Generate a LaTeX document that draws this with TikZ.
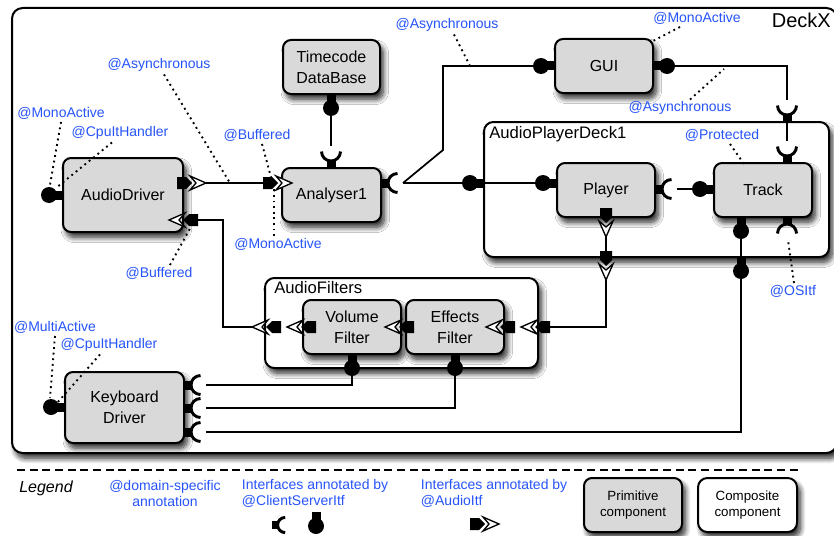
\documentclass[tikz,border=0pt]{standalone}
\usepackage{fontspec}
\setmainfont{Liberation Sans}
\usetikzlibrary{calc,shadows.blur}

\definecolor{annot}{RGB}{38,84,250}
\definecolor{primgray}{RGB}{217,217,217}

\pgfdeclarelayer{boxes}
\pgfdeclarelayer{wires}
\pgfsetlayers{boxes,wires,main}

\tikzset{
  boxshadow/.style={blur shadow={shadow xshift=2.5pt, shadow yshift=-4pt, shadow blur radius=4pt, shadow blur steps=10, shadow opacity=85}},
  prim/.style={draw, line width=1.5pt, fill=primgray, rounded corners=6pt, boxshadow,
    align=center, inner sep=0pt, font=\fontsize{12}{15.5}\selectfont},
  comp/.style={draw, line width=1.5pt, fill=white, rounded corners=7pt, boxshadow, inner sep=0pt},
  boxsize/.style 2 args={minimum width=#1*0.75pt, minimum height=#2*0.75pt},
  wire/.style={line width=1.3pt},
  note/.style={line width=1.4pt, dash pattern=on 1.4pt off 2.8pt},
  tag/.style={text=annot, inner sep=0.5pt, font=\fontsize{10.5}{12}\selectfont},
  title/.style={anchor=west, inner sep=0pt, font=\fontsize{12.5}{15}\selectfont},
  % client interface
  ball/.pic={
    \fill (0,-4.5) rectangle (14,4.5);
    \fill (14,0) circle (8);
    \coordinate (-o) at (0,0);
    \coordinate (-c) at (14,0);
  },
  % server interface
  socket/.pic={
    \fill (0,-4.5) rectangle (7,4.5);
    \draw[line width=2.2pt] (16.5,-9.5) arc[start angle=-90, end angle=-270, radius=9.5];
    \coordinate (-o) at (0,0);
    \coordinate (-c) at (22,0);
  },
  % audio interface
  audio/.pic={
    \fill (0,-6) -- (9,-6) -- (15,0) -- (9,6) -- (0,6) -- cycle;
    \draw[fill=white, line width=1pt, line join=miter] (13,-7) -- (29,0) -- (13,7) -- (19,0) -- cycle;
    \coordinate (-o) at (0,0);
    \coordinate (-tip) at (29,0);
  },
}

\begin{document}
\begin{tikzpicture}[x=0.75pt, y=-0.75pt]
  \useasboundingbox (0,0) rectangle (834,535);

  \begin{pgfonlayer}{boxes}
    % DeckX
    \node[comp, boxsize={825}{445}, rounded corners=8pt] (deckx) at (424.5,230.5) {};
    \node[prim, boxsize={97}{54}] (tdb) at (331.5,67) {Timecode\\DataBase};
    \node[prim, boxsize={98}{54}] (gui) at (604,66) {GUI};
    \node[prim, boxsize={120}{74}] (adrv) at (123,195) {AudioDriver};
    \node[prim, boxsize={99}{54}] (ana) at (331.5,195) {Analyser1};
    \node[prim, boxsize={119}{71}] (kbd) at (124.5,407.5) {Keyboard\\Driver};
    % AudioPlayerDeck1
    \node[comp, boxsize={345}{135}] (apd) at (656.5,189.5) {};
    \node[prim, boxsize={98}{54}] (player) at (606,190) {Player};
    \node[prim, boxsize={98}{54}] (track) at (763,190) {Track};
    % AudioFilters
    \node[comp, boxsize={273}{90}] (afl) at (401.5,323) {};
    \node[prim, boxsize={98}{54}] (vol) at (352,327) {Volume\\Filter};
    \node[prim, boxsize={98}{54}] (eff) at (455,327) {Effects\\Filter};
    % legend boxes
    \node[prim, boxsize={98}{54}, font=\fontsize{10}{11.5}\selectfont] (lgprim) at (633,505) {Primitive\\component};
    \node[comp, boxsize={99}{54}, align=center, font=\fontsize{10}{11.5}\selectfont] (lgcomp) at (747.5,505) {Composite\\component};
  \end{pgfonlayer}

  \node[anchor=east, inner sep=0pt, font=\fontsize{15}{18}\selectfont] (deckxl) at (831,20) {DeckX};
  \node[title] (apdl) at (489,134) {AudioPlayerDeck1};
  \node[title] (afll) at (274,288) {AudioFilters};

  % client interfaces
  \pic[rotate=180] (adrvL) at (63,195) {ball};
  \pic[rotate=-90] (tdbB) at (331,94) {ball};
  \pic[rotate=180] (guiL) at (555,66) {ball};
  \pic (guiR) at (653,66) {ball};
  \pic[rotate=180] (apdL) at (484,183) {ball};
  \pic[rotate=180] (playerL) at (557,183) {ball};
  \pic[rotate=180] (trackL) at (714,189) {ball};
  \pic[rotate=-90] (trackB) at (741,217) {ball};
  \pic[rotate=-90] (apdB) at (741,257) {ball};
  \pic[rotate=-90] (volB) at (352,354) {ball};
  \pic[rotate=-90] (effB) at (455,354) {ball};
  \pic[rotate=180] (kbdL) at (65,407) {ball};

  % server interfaces
  \pic[rotate=90] (anaT) at (331,168) {socket};
  \pic (anaR) at (381,183) {socket};
  \pic (playerR) at (655,189) {socket};
  \pic[rotate=90] (trackT) at (787,163) {socket};
  \pic[rotate=90] (apdT) at (787,122) {socket};
  \pic[rotate=-90] (trackBR) at (787,217) {socket};
  \pic (kbdR1) at (184,385) {socket};
  \pic (kbdR2) at (184,408) {socket};
  \pic (kbdR3) at (184,432) {socket};

  % audio interfaces
  \pic (adrvOut) at (177,183) {audio};
  \pic (anaIn) at (263,183) {audio};
  \pic[rotate=180] (adrvIn) at (198,220) {audio};
  \pic[rotate=180] (aflOut) at (281,327) {audio};
  \pic[rotate=180] (volOut) at (316,327) {audio};
  \pic[rotate=180] (effOut) at (414,327) {audio};
  \pic[rotate=180] (effIn) at (515,327) {audio};
  \pic[rotate=180] (aflIn) at (550,327) {audio};
  \pic[rotate=-90] (playerOut) at (606,208) {audio};
  \pic[rotate=-90] (apdOut) at (606,251) {audio};

  % bindings
  \begin{pgfonlayer}{wires}
    \draw[wire] (adrvOut-tip) -- (anaIn-o);
    \draw[wire] (tdbB-c) -- (anaT-c);
    \draw[wire] (anaR-c) -- ++(40,-33) |- (guiL-c);
    \draw[wire] (anaR-c) -- (apdL-c);
    \draw[wire] (apdL-o) -- (playerL-c);
    \draw[wire] (guiR-c) -| (apdT-c);
    \draw[wire] (apdT-o) -- (trackT-c);
    \draw[wire] (playerR-c) -- (trackL-c);
    \draw[wire] (playerOut-tip) -- (apdOut-o);
    \draw[wire] (apdOut-tip) |- (aflIn-o);
    \draw[wire] (aflOut-tip) -- ++(-29,0) |- (adrvIn-o);
    \draw[wire] (kbdR1-c) -| (volB-c);
    \draw[wire] (kbdR2-c) -| (effB-c);
    \draw[wire] (kbdR3-c) -| (apdB-c);
    \draw[wire] (apdB-o) -- (trackB-c);
  \end{pgfonlayer}

  % annotations
  \node[tag] (tAsyncA) at (159,65) {@Asynchronous};
  \node[tag] (tMonoA) at (61,113) {@MonoActive};
  \node[tag] (tCpuA) at (120,133) {@CpuItHandler};
  \node[tag] (tBufA) at (257,135) {@Buffered};
  \node[tag] (tMonoB) at (278,244) {@MonoActive};
  \node[tag] (tBufB) at (159,273) {@Buffered};
  \node[tag] (tAsyncB) at (447,25) {@Asynchronous};
  \node[tag] (tMonoC) at (697,18) {@MonoActive};
  \node[tag] (tAsyncC) at (680,108) {@Asynchronous};
  \node[tag] (tProt) at (722,135) {@Protected};
  \node[tag] (tOS) at (793,291) {@OSItf};
  \node[tag] (tMulti) at (55,327) {@MultiActive};
  \node[tag] (tCpuB) at (109,345) {@CpuItHandler};

  \draw[note] (tAsyncA.south) ++(5,2) -- (230,183);
  \draw[note] (tMonoA.south) ++(0,2) -- (50,185);
  \draw[note] (tCpuA.south) ++(-8,2) -- (56,188);
  \draw[note] (tBufA.south) ++(5,2) -- (272,181);
  \draw[note] (tMonoB.north) ++(-4,-1) -- (274,187);
  \draw[note] (tBufB.north) ++(11,-1) -- (193,223);
  \draw[note] (tAsyncB.south) ++(7,2) -- (470,66);
  \draw[note] (tMonoC.south) ++(-17,2) -- (651,42);
  \draw[note] (tAsyncC.north) ++(10,-1) -- (724,69);
  \draw[note] (tProt.south) ++(8,2) -- (744,164);
  \draw[note] (tOS.north) ++(1,-1) -- (788,240);
  \draw[note] (tMulti.south) ++(0,2) -- (50,398);
  \draw[note] (tCpuB.south) ++(-9,2) -- (57,403);

  % Legend
  \draw[line width=1.5pt, dash pattern=on 6pt off 3.5pt] (17,470) -- (798,470);
  \node[inner sep=0pt, font=\itshape\fontsize{12}{14}\selectfont] (legend) at (46,488) {Legend};
  \node[tag, align=center] (lgtag) at (165,493) {@domain-specific\\annotation};
  \node[tag, align=left, anchor=west] (lgcs) at (241,493) {Interfaces annotated by\\@ClientServerItf};
  \node[tag, align=left, anchor=west] (lgaudio) at (420,493) {Interfaces annotated by\\@AudioItf};
  \pic[scale=0.8] (lgSocket) at (272,525) {socket};
  \pic[rotate=-90] (lgBall) at (316,512) {ball};
  \pic (lgAudio) at (470,524) {audio};
\end{tikzpicture}
\end{document}
